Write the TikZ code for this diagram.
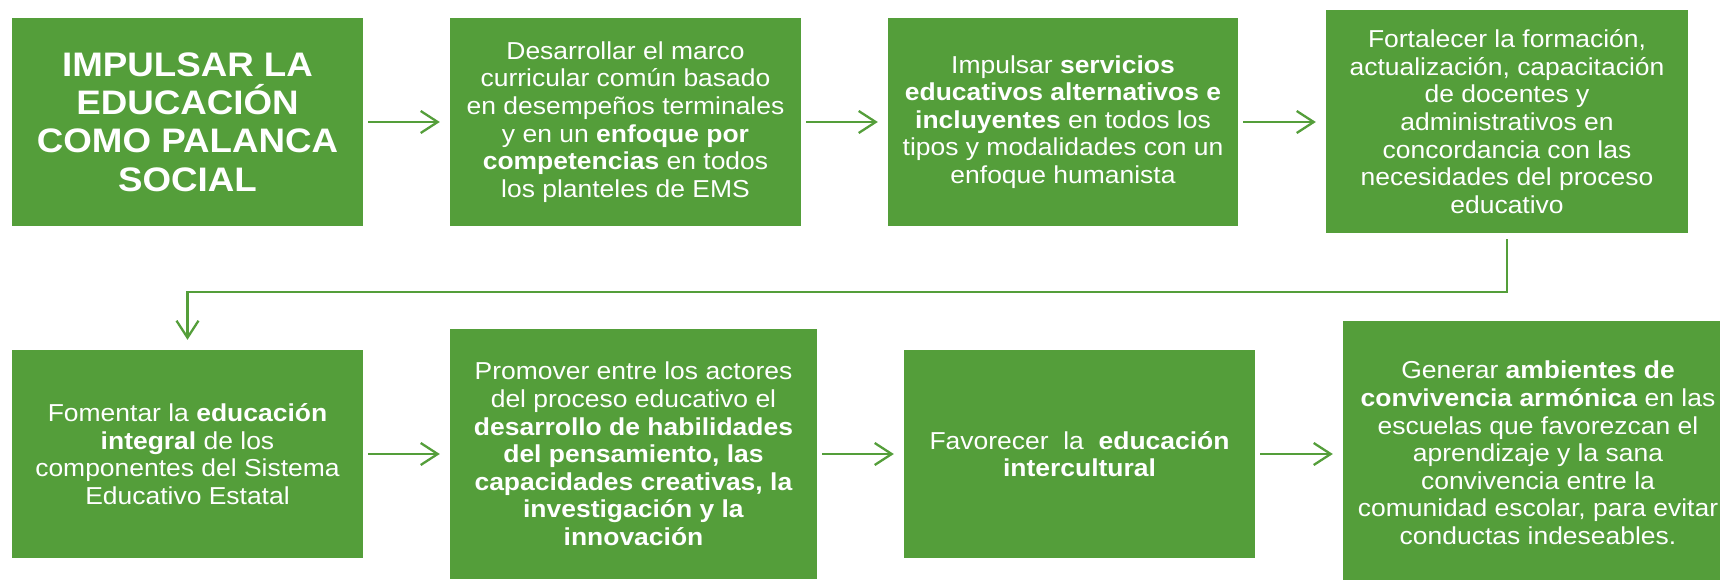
\documentclass[tikz,border=0pt]{standalone}
\usepackage{fontspec}
\setmainfont{Liberation Sans}[FakeStretch=1.08]
\usepackage{tikz}
\usetikzlibrary{arrows.meta}
\definecolor{leaf}{RGB}{84,158,58}
\tikzstyle{box}=[rectangle, fill=leaf, text=white, align=center, inner sep=0pt, font=\fontsize{24.5}{27.6}\selectfont]
\tikzstyle{title}=[box, font=\fontsize{34}{38.3}\selectfont\bfseries]
\tikzstyle{edge}=[draw=leaf, line width=2.3pt, -{Straight Barb[length=17pt,width=22pt]}, shorten <=5pt, shorten >=10pt]

\begin{document}
\begin{tikzpicture}[x=1pt, y=-1pt]
	\clip (0,0) rectangle (1720,580);

	%The first row
	\draw (187.5,122) node[title, minimum width=351, minimum height=208] (b1)
		{IMPULSAR LA\\EDUCACIÓN\\COMO PALANCA\\SOCIAL};
	\draw (625.5,122) node[box, minimum width=351, minimum height=208] (b2)
		{Desarrollar el marco\\curricular común basado\\en desempeños terminales\\y en un \textbf{enfoque por}\\\textbf{competencias} en todos\\los planteles de EMS};
	\draw (1063,122) node[box, minimum width=350, minimum height=208] (b3)
		{Impulsar \textbf{servicios}\\\textbf{educativos alternativos e}\\\textbf{incluyentes} en todos los\\tipos y modalidades con un\\enfoque humanista};
	\draw (1507,121.5) node[box, minimum width=362, minimum height=223] (b4)
		{Fortalecer la formación,\\actualización, capacitación\\de docentes y\\administrativos en\\concordancia con las\\necesidades del proceso\\educativo};

	\draw[edge] (b1) -- (b2);
	\draw[edge] (b2) -- (b3);
	\draw[edge] (b3) -- (b4.west |- b3);

	%The second row
	\draw (187.5,454) node[box, minimum width=351, minimum height=208] (b5)
		{Fomentar la \textbf{educación}\\\textbf{integral} de los\\componentes del Sistema\\Educativo Estatal};
	\draw (633.5,454) node[box, minimum width=367, minimum height=250] (b6)
		{Promover entre los actores\\del proceso educativo el\\\textbf{desarrollo de habilidades}\\\textbf{del pensamiento, las}\\\textbf{capacidades creativas, la}\\\textbf{investigación y la}\\\textbf{innovación}};
	\draw (1079.5,454) node[box, minimum width=351, minimum height=208] (b7)
		{Favorecer~ la~ \textbf{educación}\\\textbf{intercultural}};
	\draw (1538,453) node[box, minimum width=390, minimum height=264] (b8)
		{Generar \textbf{ambientes de}\\\textbf{convivencia armónica} en las\\escuelas que favorezcan el\\aprendizaje y la sana\\convivencia entre la\\comunidad escolar, para evitar\\conductas indeseables.};

	\draw[edge] (b5) -- (b6);
	\draw[edge] (b6) -- (b7);
	\draw[edge] (b7) -- (b8.west |- b7);

	%The turn between the rows
	\draw[edge, shorten <=6pt] (b4.south) -- ++(0,59) -| (b5.north);
\end{tikzpicture}
\end{document}
